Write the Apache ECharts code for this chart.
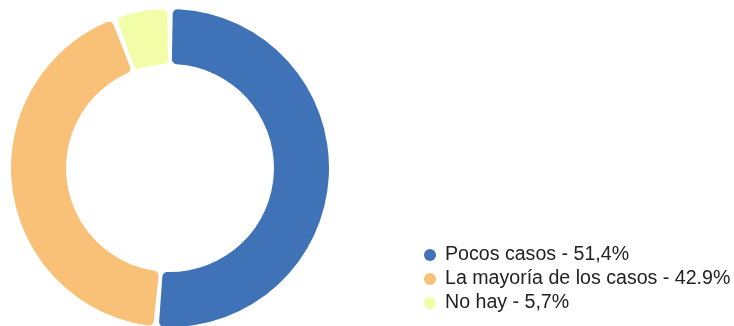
<!DOCTYPE html>
<html>
<head>
<meta charset="utf-8">
<script src="https://cdn.jsdelivr.net/npm/echarts@6/dist/echarts.min.js"></script>
<style>
  html, body { margin: 0; padding: 0; background: #fff; }
  #chart { width: 734px; height: 326px; }
</style>
</head>
<body>
<div id="chart"></div>
<script>
// Answer categories, their shares (%) and the share text shown in the legend
const categories = ['Pocos casos', 'La mayoría de los casos', 'No hay'];
const shares = [51.4, 42.9, 5.7];
const shareLabels = ['51,4%', '42.9%', '5,7%'];
const colors = ['#3f72b6', '#f9c077', '#f2fda8'];

const chart = echarts.init(document.getElementById('chart'), null, { renderer: 'canvas' });

const labelOf = {};
categories.forEach((c, i) => { labelOf[c] = c + ' - ' + shareLabels[i]; });

chart.setOption({
  animation: false,
  color: colors,
  legend: {
    orient: 'vertical',
    left: 419,
    top: 240,
    padding: 5,
    icon: 'circle',
    itemWidth: 12,
    itemHeight: 12,
    itemGap: 4,
    selectedMode: false,
    formatter: name => labelOf[name],
    textStyle: {
      fontFamily: 'Liberation Sans, Arial, sans-serif',
      fontSize: 19.6,
      color: '#222',
      padding: [0, 0, 0, 4]
    },
    data: categories
  },
  series: [{
    type: 'pie',
    center: [170, 168],
    radius: [104, 159],
    startAngle: 90,
    clockwise: true,
    padAngle: 2,
    label: { show: false },
    labelLine: { show: false },
    emphasis: { disabled: true },
    itemStyle: { borderRadius: 5 },
    data: categories.map((c, i) => ({ name: c, value: shares[i] }))
  }]
});
</script>
</body>
</html>
